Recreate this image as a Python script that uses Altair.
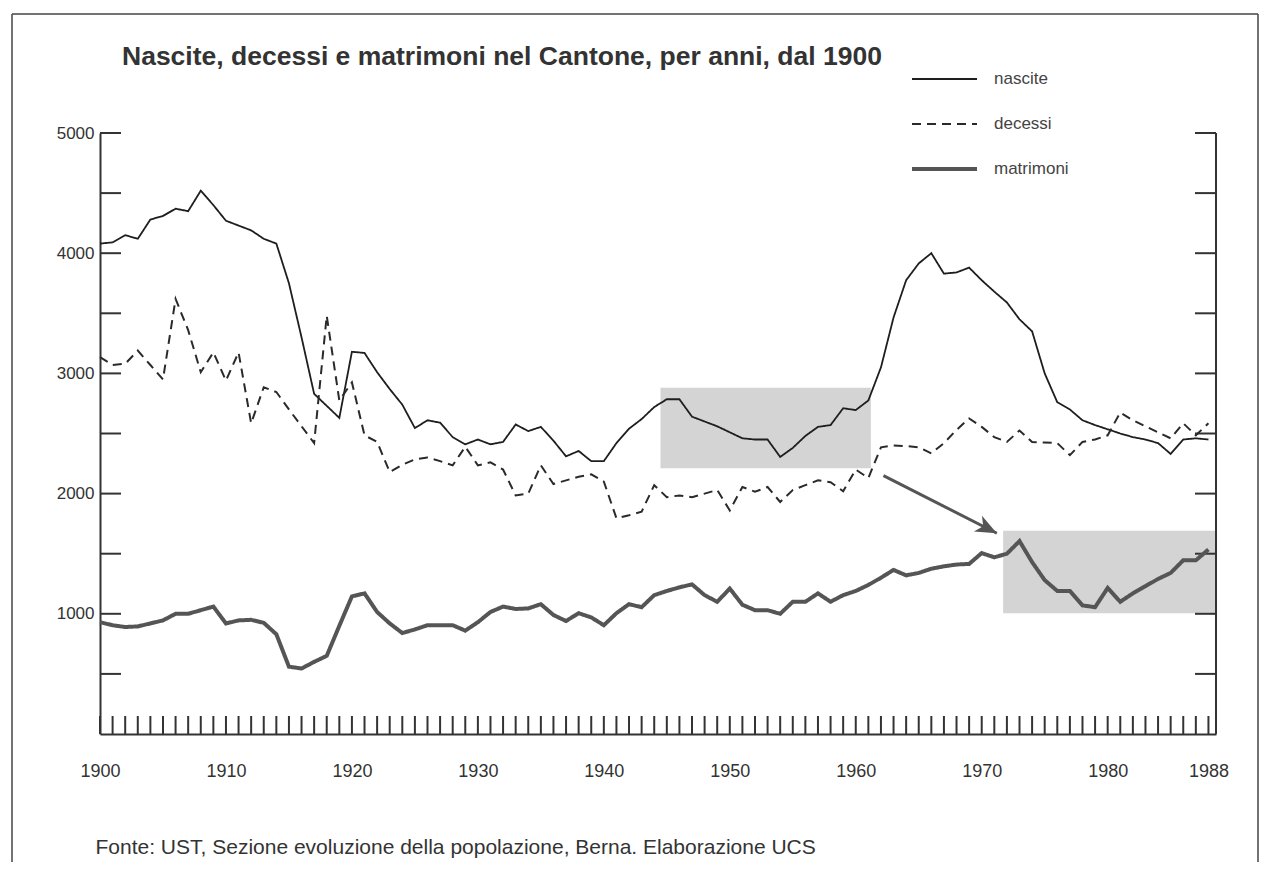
import altair as alt
import pandas as pd

# ---------------- data ----------------
years = list(range(1900, 1989))

nascite = [
    4080, 4090, 4150, 4120, 4280, 4310, 4370, 4350, 4520, 4400,   # 1900-1909
    4270, 4230, 4190, 4120, 4080, 3750, 3300, 2830, 2730, 2630,   # 1910-1919
    3180, 3170, 3010, 2870, 2740, 2545, 2610, 2590, 2470, 2410,   # 1920-1929
    2450, 2410, 2430, 2575, 2520, 2555, 2440, 2310, 2355, 2270,   # 1930-1939
    2270, 2420, 2540, 2620, 2720, 2785, 2785, 2640, 2600, 2560,   # 1940-1949
    2510, 2460, 2450, 2450, 2305, 2380, 2480, 2555, 2570, 2710,   # 1950-1959
    2695, 2775, 3050, 3465, 3775, 3915, 4000, 3830, 3840, 3880,   # 1960-1969
    3775, 3680, 3590, 3450, 3350, 3000, 2760, 2700, 2610, 2570,   # 1970-1979
    2535, 2500, 2470, 2450, 2420, 2330, 2450, 2460, 2450,         # 1980-1988
]

decessi = [
    3135, 3070, 3080, 3190, 3070, 2950, 3620, 3360, 3010, 3175,
    2940, 3175, 2585, 2885, 2845, 2700, 2560, 2420, 3480, 2775,
    2925, 2485, 2430, 2180, 2240, 2285, 2300, 2270, 2235, 2390,
    2235, 2260, 2200, 1985, 2000, 2235, 2080, 2110, 2140, 2160,
    2100, 1795, 1820, 1850, 2070, 1970, 1985, 1970, 2000, 2030,
    1860, 2055, 2015, 2055, 1930, 2030, 2070, 2110, 2095, 2020,
    2200, 2130, 2385, 2400, 2395, 2385, 2335, 2420, 2530, 2625,
    2555, 2470, 2430, 2525, 2430, 2425, 2420, 2320, 2430, 2450,
    2485, 2675, 2610, 2560, 2510, 2460, 2585, 2485, 2585,
]

matrimoni = [
    930, 905, 890, 895, 920, 945, 1000, 1000, 1030, 1060,
    920, 945, 950, 925, 830, 560, 545, 600, 650, 900,
    1145, 1170, 1015, 920, 840, 870, 905, 905, 905, 860,
    930, 1015, 1060, 1040, 1045, 1080, 990, 940, 1005, 970,
    905, 1005, 1080, 1055, 1155, 1190, 1220, 1245, 1155, 1100,
    1210, 1075, 1030, 1030, 1000, 1100, 1100, 1170, 1100, 1155,
    1190, 1240, 1300, 1365, 1320, 1340, 1375, 1395, 1410, 1415,
    1505, 1470, 1500, 1605, 1430, 1280, 1190, 1190, 1070, 1055,
    1215, 1100, 1170, 1230, 1290, 1340, 1445, 1445, 1535,
]

series = ["nascite", "decessi", "matrimoni"]

x_label_years = [1900, 1910, 1920, 1930, 1940, 1950, 1960, 1970, 1980, 1988]
y_label_values = [1000, 2000, 3000, 4000, 5000]
y_tick_values = [500, 1000, 1500, 2000, 2500, 3000, 3500, 4000, 4500, 5000]

# highlighted periods (shaded boxes)
box_start = [1944.5, 1971.7]
box_end = [1961.2, 1988.6]
box_low = [2210, 1005]
box_high = [2880, 1690]

# arrow linking the two boxes
arrow_from_year = [1962.2]
arrow_from_value = [2150]
arrow_to_year = [1971.2]
arrow_to_value = [1670]

title_text = "Nascite, decessi e matrimoni nel Cantone, per anni, dal 1900"
source_text = "Fonte: UST, Sezione evoluzione della popolazione, Berna. Elaborazione UCS"

# ---------------- chart ----------------
W, H = 1116, 601
FONT = "Liberation Sans"
INK = "#333333"

x_scale = alt.Scale(domain=[1900, 1988.6], nice=False, zero=False)
y_scale = alt.Scale(domain=[0, 5000], nice=False)

x_axis = alt.Axis(
    values=x_label_years, format="d", tickSize=0, labelPadding=28,
    labelFont=FONT, labelFontSize=18, labelColor=INK, labelFlush=False,
    labelOverlap=False, domainColor=INK, domainWidth=2, grid=False,
    title=source_text, titleFont=FONT, titleFontSize=21,
    titleFontWeight="normal", titleColor=INK, titleAnchor="start",
    titleAlign="left", titleX=-5, titleY=119, titleBaseline="alphabetic",
)
y_axis = alt.Axis(
    values=y_label_values, format="d", tickSize=0, labelPadding=6,
    labelFont=FONT, labelFontSize=17, labelColor=INK, domainColor=INK,
    domainWidth=2, grid=False, title="",
)

n = len(years)
df = pd.DataFrame({
    "anno": years * 3,
    "valore": nascite + decessi + matrimoni,
    "serie": [series[0]] * n + [series[1]] * n + [series[2]] * n,
})

legend = alt.Legend(
    orient="none", legendX=810, legendY=-67, title=None,
    symbolType="stroke", symbolSize=4225, clipHeight=26, rowPadding=19,
    labelFont=FONT, labelFontSize=17, labelColor="#444444", labelOffset=15,
    padding=0,
)

lines = alt.Chart(df).mark_line(strokeCap="butt").encode(
    x=alt.X("anno:Q", scale=x_scale, axis=x_axis),
    y=alt.Y("valore:Q", scale=y_scale, axis=y_axis),
    color=alt.Color("serie:N", scale=alt.Scale(domain=series,
                    range=["#1e1e1e", "#2a2a2a", "#555555"]), legend=legend),
    strokeDash=alt.StrokeDash("serie:N", scale=alt.Scale(domain=series,
                              range=[[1, 0], [9, 6], [1, 0]]), legend=legend),
    strokeWidth=alt.StrokeWidth("serie:N", scale=alt.Scale(type="ordinal", domain=series,
                                range=[1.8, 2.0, 4.0]), legend=legend),
)

boxes = pd.DataFrame({"anno": box_start, "fine": box_end,
                      "valore": box_low, "alto": box_high})
rects = alt.Chart(boxes).mark_rect(color="#d4d4d4").encode(
    x=alt.X("anno:Q", scale=x_scale, axis=x_axis), x2="fine",
    y=alt.Y("valore:Q", scale=y_scale, axis=y_axis), y2="alto",
)

arrow_df = pd.DataFrame({"anno": arrow_from_year, "valore": arrow_from_value,
                         "anno_fine": arrow_to_year, "valore_fine": arrow_to_value})
shaft = alt.Chart(arrow_df).mark_rule(color="#555555", strokeWidth=3).encode(
    x=alt.X("anno:Q", scale=x_scale, axis=x_axis), x2="anno_fine",
    y=alt.Y("valore:Q", scale=y_scale, axis=y_axis), y2="valore_fine",
)
head = alt.Chart(arrow_df).mark_point(
    shape="M0,0L-1,-0.42L-0.72,0L-1,0.42Z", filled=True, color="#555555",
    opacity=1, size=1800, angle=27,
).encode(
    x=alt.X("anno_fine:Q", scale=x_scale, axis=x_axis),
    y=alt.Y("valore_fine:Q", scale=y_scale, axis=y_axis),
)

tick_df = pd.DataFrame({"anno": years})
year_ticks = alt.Chart(tick_df).mark_rule(color=INK, strokeWidth=2).encode(
    x=alt.X("anno:Q", scale=x_scale, axis=x_axis),
    y=alt.value(H - 18), y2=alt.value(H),
)

ytick_df = pd.DataFrame({"valore": y_tick_values})
left_ticks = alt.Chart(ytick_df).mark_rule(color=INK, strokeWidth=2).encode(
    y=alt.Y("valore:Q", scale=y_scale, axis=y_axis),
    x=alt.value(0), x2=alt.value(21),
)
right_ticks = alt.Chart(ytick_df).mark_rule(color=INK, strokeWidth=2).encode(
    y=alt.Y("valore:Q", scale=y_scale, axis=y_axis),
    x=alt.value(W - 21), x2=alt.value(W),
)

one = pd.DataFrame({"k": [0]})
right_axis = alt.Chart(one).mark_rule(color=INK, strokeWidth=2).encode(
    x=alt.value(W), y=alt.value(0), y2=alt.value(H),
)

# outer frame of the figure
frame_top = alt.Chart(one).mark_rule(color="#444444", strokeWidth=1.5).encode(
    x=alt.value(-88), x2=alt.value(W + 42), y=alt.value(-119),
)
frame_left = alt.Chart(one).mark_rule(color="#444444", strokeWidth=1.5).encode(
    x=alt.value(-88), y=alt.value(-119), y2=alt.value(H + 200),
)
frame_right = alt.Chart(one).mark_rule(color="#444444", strokeWidth=1.5).encode(
    x=alt.value(W + 42), y=alt.value(-119), y2=alt.value(H + 200),
)

chart = alt.layer(
    rects, year_ticks, left_ticks, right_ticks, right_axis,
    frame_top, frame_left, frame_right, lines, shaft, head,
).properties(
    width=W, height=H,
    title=alt.TitleParams(
        text=title_text, anchor="start", frame="group", dx=22, offset=-78,
        font=FONT, fontSize=26.5, fontWeight="bold", color=INK,
        baseline="alphabetic",
    ),
    padding={"left": 92, "top": 125, "right": 44, "bottom": 128},
    autosize=alt.AutoSizeParams(type="none"),
    view=alt.ViewBackground(stroke=None, strokeWidth=0),
).configure_view(stroke=None, strokeWidth=0).configure_axis(
    grid=False, gridOpacity=0
).configure(background="white", font=FONT)

chart.save("out.html", embed_options={"renderer": "svg", "actions": False})
